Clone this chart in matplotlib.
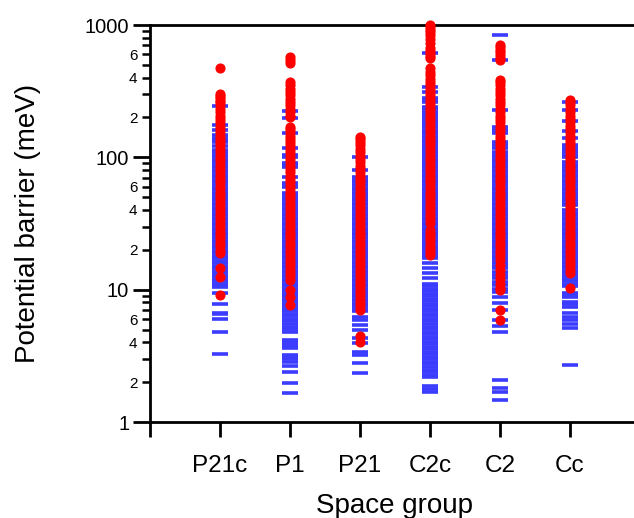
import numpy as np
import matplotlib
matplotlib.use('Agg')
import matplotlib.pyplot as plt
from matplotlib.ticker import LogLocator, FuncFormatter

plt.rcParams['font.family'] = ['Liberation Sans', 'DejaVu Sans']

groups = ['P21c', 'P1', 'P21', 'C2c', 'C2', 'Cc']

# blue dashes (meV)
blue_p21c = [3.27, 4.8, 6.0, 6.5, 6.7, 7.8, 9.5, 10.5, 10.8, 11.1, 11.6, 12.1, 12.7, 13.3, 13.9,
             14.5, 15.1, 15.8, 16.5, 17.3, 18.0, 18.9, 19.7, 20.6, 21.5, 22.5, 23.5, 24.6, 25.7,
             26.8, 28.0, 29.3, 30.6, 32.0, 33.4, 34.9, 36.5, 38.1, 39.8, 41.6, 43.5, 45.4, 47.5,
             49.6, 51.8, 54.2, 56.6, 59.1, 61.8, 64.6, 67.5, 70.5, 73.7, 77.0, 80.4, 84.0, 87.8,
             91.8, 95.9, 100, 105, 109, 114, 122, 130, 135, 140, 147, 161, 176, 245]
blue_p1 = [1.66, 1.97, 2.39, 2.65, 2.85, 2.97, 3.1, 3.2, 3.62, 3.75, 3.87, 4.04, 4.16, 4.82, 5.04,
           5.26, 5.5, 5.75, 6.0, 6.27, 6.56, 6.85, 7.16, 7.48, 7.82, 8.17, 8.54, 8.92, 9.32, 9.74,
           10.2, 10.6, 11.1, 11.6, 12.1, 12.7, 13.3, 13.9, 14.5, 15.1, 15.8, 16.5, 17.3, 18.0,
           18.9, 19.7, 20.6, 21.5, 22.5, 23.5, 24.6, 25.7, 26.8, 28.0, 29.3, 30.6, 32.0, 33.4,
           34.9, 36.5, 38.1, 39.8, 41.6, 43.5, 45.4, 47.5, 49.6, 51.8, 54.2, 60, 62, 64, 71, 85,
           88, 90, 100, 104, 117, 153, 199, 224]
blue_p21 = [2.34, 2.79, 3.2, 3.38, 3.96, 4.3, 5.0, 5.4, 5.9, 6.2, 6.85, 7.16, 7.48, 7.82, 8.17,
            8.54, 8.92, 9.32, 9.74, 10.2, 10.6, 11.1, 11.6, 12.1, 12.7, 13.3, 13.9, 14.5, 15.1,
            15.8, 16.5, 17.3, 18.0, 18.9, 19.7, 20.6, 21.5, 22.5, 23.5, 24.6, 25.7, 26.8, 28.0,
            29.3, 30.6, 32.0, 33.4, 34.9, 36.5, 38.1, 39.8, 41.6, 43.5, 45.4, 47.5, 49.6, 51.8,
            54.2, 56.6, 59.1, 61.8, 64.6, 67.5, 70.5, 80, 101]
blue_c2c = [1.69, 1.78, 1.87, 2.18, 2.28, 2.38, 2.49, 2.6, 2.72, 2.84, 2.97, 3.1, 3.24, 3.39, 3.54,
            3.7, 3.87, 4.04, 4.22, 4.41, 4.61, 4.82, 5.04, 5.26, 5.5, 5.75, 6.0, 6.27, 6.56, 6.85,
            7.16, 7.48, 7.82, 8.17, 8.54, 8.92, 9.32, 9.74, 10.2, 10.6, 11.1, 12.3, 13.4, 14.6,
            15.9, 17.3, 18.0, 18.9, 19.7, 20.6, 21.5, 22.5, 23.5, 24.6, 25.7, 26.8, 28.0, 29.3,
            30.6, 32.0, 33.4, 34.9, 36.5, 38.1, 39.8, 41.6, 43.5, 45.4, 47.5, 49.6, 51.8, 54.2,
            56.6, 59.1, 61.8, 64.6, 67.5, 70.5, 73.7, 77.0, 80.4, 84.0, 87.8, 91.8, 95.9, 100, 105,
            109, 114, 119, 125, 130, 136, 142, 149, 155, 162, 170, 177, 185, 193, 202, 211, 221,
            231, 241, 262, 270, 282, 311, 342, 613]
blue_c2 = [1.47, 1.69, 1.81, 2.08, 4.8, 5.3, 5.9, 7.0, 7.9, 8.8, 9.6, 10.2, 10.8, 11.5, 12.2, 12.8,
           13.6, 14.5, 15.1, 15.8, 16.5, 17.3, 18.0, 18.9, 19.7, 20.6, 21.5, 22.5, 23.5, 24.6,
           25.7, 26.8, 28.0, 29.3, 30.6, 32.0, 33.4, 34.9, 36.5, 38.1, 39.8, 41.6, 43.5, 45.4,
           47.5, 49.6, 51.8, 54.2, 56.6, 59.1, 61.8, 64.6, 67.5, 70.5, 73.7, 77.0, 80.4, 84.0,
           87.8, 91.8, 95.9, 100, 105, 109, 118, 124, 130, 153, 160, 170, 228, 545, 842]
blue_cc = [2.7, 5.1, 5.5, 5.9, 6.2, 6.7, 7.4, 7.8, 8.1, 8.8, 9.1, 9.4, 10.6, 11.1, 11.6, 12.1, 12.7,
           13.3, 13.9, 14.5, 15.1, 15.8, 16.5, 17.3, 18.0, 18.9, 19.7, 20.6, 21.5, 22.5, 23.5,
           24.6, 25.7, 26.8, 28.0, 29.3, 30.6, 32.0, 33.4, 34.9, 36.5, 38.1, 39.8, 43.5, 45.4,
           47.5, 49.6, 51.8, 54.2, 56.6, 59.1, 61.8, 64.6, 67.5, 70.5, 73.7, 77.0, 80.4, 84.0,
           87.8, 91.8, 100, 105, 109, 114, 118, 124, 141, 158, 188, 228, 263]

# red dots
red_p21c = [474, 300, 290, 280, 268, 262, 247, 233, 220, 207, 196, 185, 174, 164, 155, 146, 138,
            130, 123, 116, 109, 103, 97, 92, 86.5, 81.6, 77, 72.6, 68.5, 64.6, 61, 57.5, 54.2,
            51.2, 48.3, 45.5, 43, 40.5, 38.2, 36, 34, 32, 30.2, 28.5, 26.9, 25.4, 24, 22.6, 21.3,
            20.1, 19, 14.5, 12.5, 9.1]
red_p1 = [574, 540, 517, 371, 350, 330, 312, 294, 277, 262, 247, 233, 220, 207, 202, 170, 164, 155,
          146, 138, 130, 123, 116, 109, 103, 97, 92, 86.5, 81.6, 77, 72.6, 68.5, 64.6, 61, 57.5,
          54.2, 51.2, 48.3, 45.5, 43, 40.5, 38.2, 36, 34, 32, 30.2, 28.5, 26.9, 25.4, 24, 22.6,
          21.3, 20.1, 19, 17.9, 16.9, 15.9, 15, 14.2, 13.4, 12.6, 11.9, 9.9, 8.8, 7.7]
red_p21 = [143, 138, 130, 123, 116, 109, 103, 97, 92, 86.5, 81.6, 77, 72.6, 68.5, 64.6, 61, 57.5,
           54.2, 51.2, 48.3, 45.5, 43, 40.5, 38.2, 36, 34, 32, 30.2, 28.5, 26.9, 25.4, 24, 22.6,
           21.3, 20.1, 19, 17.9, 16.9, 15.9, 15, 14.2, 13.4, 12.6, 11.9, 11.2, 10.6, 10, 9.4,
           8.9, 8.4, 7.9, 7.5, 7.0, 4.5, 4.0]
red_c2c = [1000, 960, 920, 880, 840, 780, 730, 670, 640, 610, 585, 560, 470, 442, 417, 394, 371,
           350, 330, 312, 294, 277, 262, 247, 233, 220, 207, 196, 185, 174, 164, 155, 146, 138,
           130, 123, 116, 109, 103, 97, 92, 86.5, 81.6, 77, 72.6, 68.5, 64.6, 61, 57.5, 54.2,
           51.2, 48.3, 45.5, 43, 40.5, 38.2, 36, 34, 32, 28.3, 27, 25.5, 24.2, 22.8, 21.5, 20.3,
           19.2, 18.3]
red_c2 = [707, 680, 650, 620, 590, 560, 545, 385, 371, 350, 330, 312, 294, 277, 262, 247, 233,
          220, 207, 196, 185, 174, 164, 155, 146, 138, 130, 123, 116, 109, 103, 97, 92, 86.5,
          81.6, 77, 72.6, 68.5, 64.6, 61, 57.5, 54.2, 51.2, 48.3, 45.5, 43, 40.5, 38.2, 36, 34,
          32, 30.2, 28.5, 26.9, 25.4, 24, 22.6, 21.3, 20.1, 19, 17.9, 16.8, 15.3, 14.2, 13, 12,
          11, 10.3, 9.9, 7.0, 5.9]
red_cc = [272, 262, 247, 233, 220, 207, 196, 185, 174, 164, 155, 146, 138, 130, 123, 116, 109,
          103, 97, 92, 86.5, 81.6, 77, 72.6, 68.5, 64.6, 61, 57.5, 54.2, 51.2, 48.3, 45.5, 43,
          40.5, 38.2, 36, 34, 32, 30.2, 28.5, 26.9, 25.4, 24, 22.6, 21.3, 20.1, 19, 17.9, 16.9,
          15.9, 15, 14.2, 13.4, 10.3]

blue_sets = [blue_p21c, blue_p1, blue_p21, blue_c2c, blue_c2, blue_cc]
red_sets = [red_p21c, red_p1, red_p21, red_c2c, red_c2, red_cc]

fig = plt.figure(figsize=(6.34, 5.18), dpi=100)
ax = fig.add_axes([150/634, 96/518, 490/634, 397/518])

for i, vals in enumerate(blue_sets):
    ax.plot(np.full(len(vals), i + 1), vals, ls='none', marker='_', ms=11, mew=2.6,
            color='#3c3cff', clip_on=False, zorder=2)
for i, vals in enumerate(red_sets):
    ax.plot(np.full(len(vals), i + 1), vals, ls='none', marker='o', ms=6.3,
            color='#ff0000', mec='#ff0000', clip_on=False, zorder=3)

ax.set_yscale('log')
ax.set_ylim(1, 1000)
ax.set_xlim(0, 7)

ax.spines['right'].set_visible(False)
for s in ['left', 'bottom', 'top']:
    ax.spines[s].set_linewidth(2)

ax.set_xticks(range(0, 7))
ax.set_xticklabels([''] + groups, fontsize=17.5)
ax.yaxis.set_major_locator(LogLocator(base=10, numticks=10))
ax.yaxis.set_minor_locator(LogLocator(base=10, subs=np.arange(2, 10), numticks=10))
ax.yaxis.set_major_formatter(FuncFormatter(lambda v, p: '%d' % round(v)))


def minor_fmt(v, p):
    m = int(round(v / 10 ** np.floor(np.log10(v) + 1e-9)))
    return str(m) if m in (2, 4, 6) else ''


ax.yaxis.set_minor_formatter(FuncFormatter(minor_fmt))
ax.tick_params(axis='x', which='major', length=11, width=2, pad=13, direction='out')
ax.tick_params(axis='y', which='major', length=12, width=2, pad=3, labelsize=14.5, direction='out')
ax.tick_params(axis='y', which='minor', length=6, width=1.8, pad=3, labelsize=11, direction='out')

ax.set_xlabel('Space group', fontsize=20)
ax.set_ylabel('Potential barrier (meV)', fontsize=20)
ax.xaxis.set_label_coords(0.5, -0.18)
ax.yaxis.set_label_coords(-0.222, 0.5)

fig.savefig('out.png', dpi=100)
